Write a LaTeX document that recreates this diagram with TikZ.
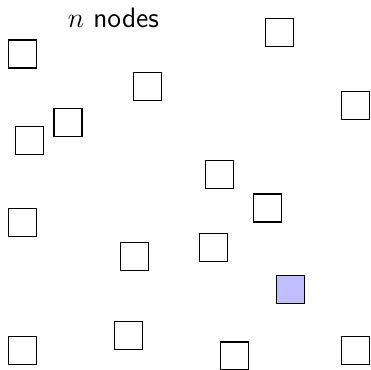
\documentclass[tikz,border=0pt]{standalone}
\usepackage{tikz}
\usetikzlibrary{positioning}
\tikzset{
  cell/.style={
    rectangle,
    minimum size=0.42cm,
    inner sep=0pt,
    semithick,
    draw=black,
    fill=white
  },
  picked/.style={
    cell,
    fill=blue!25
  }
}

\begin{document}
\begin{tikzpicture}
\useasboundingbox (0,0) rectangle (5.55,5.55);

% Nodes
\node (title) [font=\sffamily\large] at (1.70,5.28) {$n$ nodes};
\node (n1) [cell] at (0.34,4.74) {};
\node (n2) [cell] at (2.21,4.25) {};
\node (n3) [cell] at (1.02,3.71) {};
\node (n4) [cell] at (0.44,3.44) {};
\node (n5) [cell] at (4.19,5.06) {};
\node (n6) [cell] at (5.33,3.97) {};
\node (n7) [cell] at (3.29,2.93) {};
\node (n8) [cell] at (0.34,2.21) {};
\node (n9) [cell] at (2.02,1.70) {};
\node (n10) [cell] at (1.93,0.52) {};
\node (n11) [cell] at (0.34,0.29) {};
\node (n12) [cell] at (4.01,2.43) {};
\node (n13) [cell] at (3.20,1.84) {};
\node (n14) [picked] at (4.36,1.21) {};
\node (n15) [cell] at (3.52,0.21) {};
\node (n16) [cell] at (5.33,0.29) {};
\end{tikzpicture}
\end{document}
